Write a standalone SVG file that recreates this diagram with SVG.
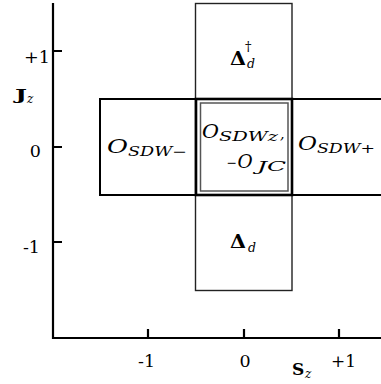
<svg xmlns="http://www.w3.org/2000/svg" width="381" height="384" viewBox="0 0 381 384">
<style>
.ax{stroke:#000;stroke-width:2.2;fill:none}
.num{font-family:"DejaVu Serif",serif;font-size:17.5px;fill:#000}
.it{font-family:"DejaVu Serif",serif;font-style:italic;fill:#000}
.up{font-family:"DejaVu Serif",serif;fill:#000}
.bd{font-family:"DejaVu Serif",serif;font-weight:bold;fill:#000}
.band{stroke:#000;stroke-width:2;fill:none}
.vband{stroke:#222;stroke-width:1.4;fill:none}
</style>
<rect width="381" height="384" fill="#fff"/>
<g id="axes">
<path class="ax" d="M53,3V338H381"/>
<path class="ax" d="M53,51H62M53,147H62M53,242H62M148,338V329M244,338V329M339,338V329"/>
<text class="num" x="50" y="63" text-anchor="end" textLength="26" lengthAdjust="spacingAndGlyphs">+1</text>
<text class="num" x="41" y="157" text-anchor="end">0</text>
<text class="num" x="40" y="253" text-anchor="end">-1</text>
<text class="num" x="146.5" y="367" text-anchor="middle">-1</text>
<text class="num" x="245" y="367" text-anchor="middle">0</text>
<text class="num" x="331" y="367" textLength="25" lengthAdjust="spacingAndGlyphs">+1</text>
<text class="bd" x="15" y="100" font-size="15" textLength="12" lengthAdjust="spacingAndGlyphs">J</text>
<text class="it" x="27" y="103" font-size="12">z</text>
<text class="bd" x="292" y="375" font-size="17">S</text>
<text class="it" x="305" y="378" font-size="12">z</text>
</g>
<g id="connectors"></g>
<g id="vertical-band">
<rect class="vband" x="195.5" y="3.5" width="96.5" height="287"/>
</g>
<g id="horizontal-band">
<path class="band" d="M381,99H100V195H381"/>
</g>
<g id="node-OSDWz">
<rect x="196" y="99" width="96" height="96" fill="none" stroke="#000" stroke-width="2.6"/>
<rect x="200.5" y="103" width="87.5" height="88" fill="none" stroke="#555" stroke-width="1.5"/>
<text class="it" x="202" y="138" font-size="18" textLength="17" lengthAdjust="spacingAndGlyphs">O</text>
<text class="it" x="219" y="141" font-size="12.5" textLength="59" lengthAdjust="spacingAndGlyphs">SDWz</text>
<text class="it" x="280" y="139" font-size="14">,</text>
<text class="up" x="226.5" y="168"><tspan font-size="12.5" dy="-1">−</tspan><tspan class="it" font-style="italic" font-size="18.5" dy="1" dx="0.5">O</tspan></text>
<text class="it" x="257" y="171" font-size="12.5" textLength="29" lengthAdjust="spacingAndGlyphs">JC</text>
</g>
<g id="node-OSDWminus">
<text class="it" x="107" y="153" font-size="18" textLength="21" lengthAdjust="spacingAndGlyphs">O</text>
<text class="it" x="128" y="156" font-size="12.5" textLength="59" lengthAdjust="spacingAndGlyphs">SDW−</text>
</g>
<g id="node-OSDWplus">
<text class="it" x="298" y="150" font-size="18" textLength="19" lengthAdjust="spacingAndGlyphs">O</text>
<text class="it" x="317" y="153" font-size="12.5" textLength="58" lengthAdjust="spacingAndGlyphs">SDW+</text>
</g>
<g id="node-DeltaDagger">
<text class="bd" x="230" y="65" font-size="19" textLength="16" lengthAdjust="spacingAndGlyphs">Δ</text>
<text class="up" x="245" y="51" font-size="13">†</text>
<text class="it" x="247" y="68" font-size="12.5">d</text>
</g>
<g id="node-Delta">
<text class="bd" x="230" y="248" font-size="19" textLength="16" lengthAdjust="spacingAndGlyphs">Δ</text>
<text class="it" x="248" y="252" font-size="12.5">d</text>
</g>
</svg>
